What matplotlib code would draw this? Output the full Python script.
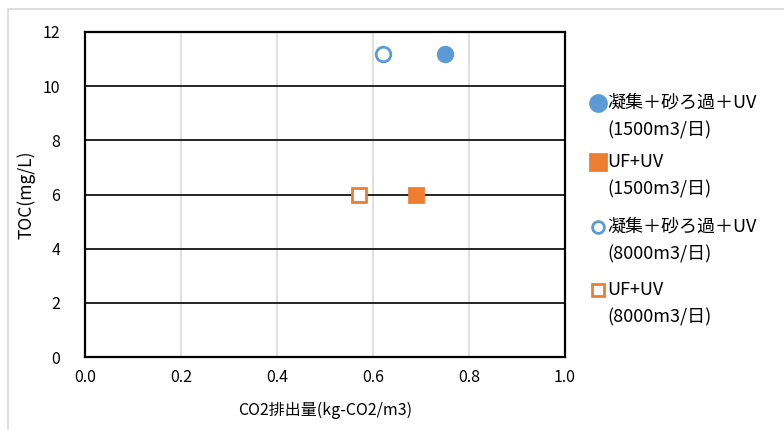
import matplotlib.pyplot as plt
from matplotlib.patches import Rectangle
from matplotlib.lines import Line2D

plt.rcParams['font.family'] = ['Noto Sans CJK JP', 'DejaVu Sans']

labels = ['凝集＋砂ろ過＋UV\n(1500m3/日)', 'UF+UV\n(1500m3/日)',
          '凝集＋砂ろ過＋UV\n(8000m3/日)', 'UF+UV\n(8000m3/日)']
co2 = [0.75, 0.69, 0.62, 0.57]
toc = [11.2, 6.0, 11.2, 6.0]
markers = ['o', 's', 'o', 's']
colors = ['#5b9bd5', '#ed7d31', '#5b9bd5', '#ed7d31']
filled = [True, True, False, False]

W, H = 784, 430
fig = plt.figure(figsize=(7.84, 4.30), dpi=100)
# outer chart border (light gray)
fig.patches.append(Rectangle((8 / W, -0.1), 1.2, (H - 9) / H + 0.1,
                             transform=fig.transFigure, fill=False,
                             edgecolor='#d9d9d9', linewidth=1.2))
ax = fig.add_axes([85 / W, 1 - 357 / H, 480 / W, 325 / H])

for x, y, m, c, f in zip(co2, toc, markers, colors, filled):
    ax.plot([x], [y], linestyle='none', marker=m, markersize=10.5,
            markerfacecolor=c if f else 'white', markeredgecolor=c,
            markeredgewidth=2, zorder=3)

ax.set_xlim(0, 1.0)
ax.set_ylim(0, 12)
ax.set_xticks([0.0, 0.2, 0.4, 0.6, 0.8, 1.0])
ax.set_xticklabels(['0.0', '0.2', '0.4', '0.6', '0.8', '1.0'])
ax.set_yticks(range(0, 13, 2))
ax.tick_params(length=0, labelsize=11.5, pad=9)
ax.tick_params(axis='y', pad=18)
for x in [0.2, 0.4, 0.6, 0.8]:
    ax.axvline(x, color='#d9d9d9', linewidth=1.2, zorder=1)
for y in range(2, 12, 2):
    ax.axhline(y, color='black', linewidth=1.2, zorder=2)
for s in ax.spines.values():
    s.set_linewidth(1.6)
    s.set_color('black')

ax.set_xlabel('CO2排出量(kg-CO2/m3)', fontsize=11.5, labelpad=11)
ax.set_ylabel('TOC(mg/L)', fontsize=12.5, labelpad=5)

# legend drawn by hand so the marker sits beside the first line
first_line_y = [103, 162, 227, 290]
for i, lab in enumerate(labels):
    y0 = first_line_y[i]
    size = 11.5 if filled[i] else 8.5
    fig.add_artist(Line2D([598 / W], [1 - y0 / H], transform=fig.transFigure,
                          linestyle='none', marker=markers[i], markersize=size,
                          markerfacecolor=colors[i] if filled[i] else 'white',
                          markeredgecolor=colors[i], markeredgewidth=2))
    for j, line in enumerate(lab.split('\n')):
        fig.text(607 / W, 1 - (y0 + 27 * j) / H, line, fontsize=13,
                 ha='left', va='center')

fig.savefig('out.png', dpi=100)
